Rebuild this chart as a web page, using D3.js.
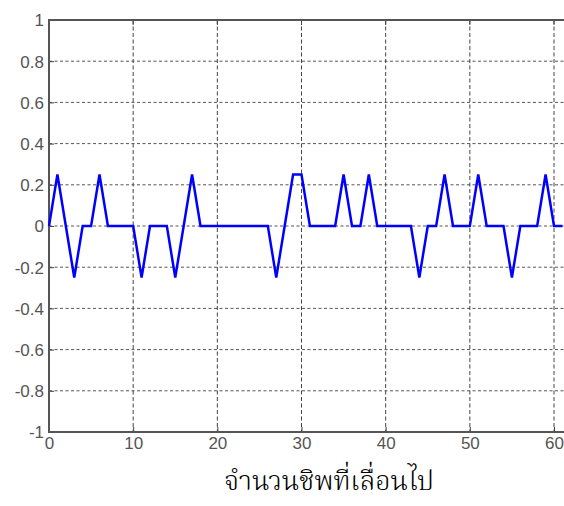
<!DOCTYPE html>
<html>
<head>
<meta charset="utf-8">
<script src="https://cdn.jsdelivr.net/npm/d3@7"></script>
<style>
  body { margin: 0; background: #fff; }
  svg { display: block; }
</style>
</head>
<body>
<script>
// chip shift (x) and normalised correlation (y)
var shifts = d3.range(0, 62);
var corr = [0, 0.25, 0, -0.25, 0, 0, 0.25, 0, 0, 0,
            0, -0.25, 0, 0, 0, -0.25, 0, 0.25, 0, 0,
            0, 0, 0, 0, 0, 0, 0, -0.25, 0, 0.25,
            0.25, 0, 0, 0, 0, 0.25, 0, 0, 0.25, 0,
            0, 0, 0, 0, -0.25, 0, 0, 0.25, 0, 0,
            0, 0.25, 0, 0, 0, -0.25, 0, 0, 0, 0.25,
            0, 0];
var xTicks = [0, 10, 20, 30, 40, 50, 60];
var yTicks = [-1, -0.8, -0.6, -0.4, -0.2, 0, 0.2, 0.4, 0.6, 0.8, 1];
var xLabel = "จำนวนชิพที่เลื่อนไป";

var W = 564, H = 506;
// plot box edges (right one runs past the cropped picture)
var plotLeft = 49, plotTop = 20, plotBottom = 432, plotRight = 620;

var svg = d3.select("body").append("svg")
    .attr("width", W)
    .attr("height", H);

var x = d3.scaleLinear().domain([0, 60]).range([plotLeft, 554]);
var y = d3.scaleLinear().domain([-1, 1]).range([plotBottom, plotTop]);

// grid lines
var grid = svg.append("g");
grid.selectAll("line.h").data(yTicks.filter(function(d) { return d > -1 && d < 1; }))
  .enter().append("line")
    .attr("x1", plotLeft).attr("x2", plotRight)
    .attr("y1", function(d) { return y(d); })
    .attr("y2", function(d) { return y(d); })
    .attr("stroke", "#555")
    .attr("stroke-width", 1)
    .attr("stroke-dasharray", "3,2.5");
grid.selectAll("line.v").data(xTicks.filter(function(d) { return d > 0; }))
  .enter().append("line")
    .attr("x1", function(d) { return x(d); })
    .attr("x2", function(d) { return x(d); })
    .attr("y1", plotTop).attr("y2", plotBottom)
    .attr("stroke", "#444")
    .attr("stroke-width", 1)
    .attr("stroke-dasharray", "4,2.5");

// axes (plain hyphen minus, like the matlab labels)
var yAxis = d3.axisLeft(y).tickValues(yTicks).tickSize(-5).tickPadding(10)
    .tickFormat(function(d) { return String(+d.toFixed(1)); });
var xAxis = d3.axisBottom(x).tickValues(xTicks).tickSize(-5).tickPadding(10);

var gy = svg.append("g").attr("transform", "translate(" + plotLeft + ",0)").call(yAxis);
var gx = svg.append("g").attr("transform", "translate(0," + plotBottom + ")").call(xAxis);

[gx, gy].forEach(function(g) {
  g.select(".domain").remove();
  g.selectAll(".tick line").attr("stroke", "#444").attr("stroke-width", 1);
  g.selectAll(".tick text")
    .attr("fill", "#555")
    .attr("font-family", "'Liberation Sans', Arial, sans-serif")
    .attr("font-size", 17);
});
gx.selectAll(".tick text").attr("y", 5).attr("dy", "0.71em");
gy.selectAll(".tick text").attr("x", -5).attr("dy", "0.35em");

// top ticks
svg.append("g").selectAll("line").data(xTicks.filter(function(d) { return d > 0; }))
  .enter().append("line")
    .attr("x1", function(d) { return x(d); })
    .attr("x2", function(d) { return x(d); })
    .attr("y1", plotTop).attr("y2", plotTop + 5)
    .attr("stroke", "#444");

// box
svg.append("path")
    .attr("d", "M" + plotRight + "," + plotTop + "H" + plotLeft + "V" + plotBottom + "H" + plotRight)
    .attr("fill", "none")
    .attr("stroke", "#555")
    .attr("stroke-width", 2);

// data line
var line = d3.line()
    .x(function(d, i) { return x(shifts[i]); })
    .y(function(d) { return y(d); });

svg.append("path")
    .datum(corr)
    .attr("d", line)
    .attr("fill", "none")
    .attr("stroke", "#0000ff")
    .attr("stroke-width", 2.5)
    .attr("stroke-linejoin", "miter");

// x label
svg.append("text")
    .attr("x", 329)
    .attr("y", 490)
    .attr("text-anchor", "middle")
    .attr("font-family", "'Noto Serif Thai', 'Noto Sans Thai', serif")
    .attr("font-size", 27)
    .attr("font-weight", 300)
    .attr("fill", "#000")
    .text(xLabel);
</script>
</body>
</html>
